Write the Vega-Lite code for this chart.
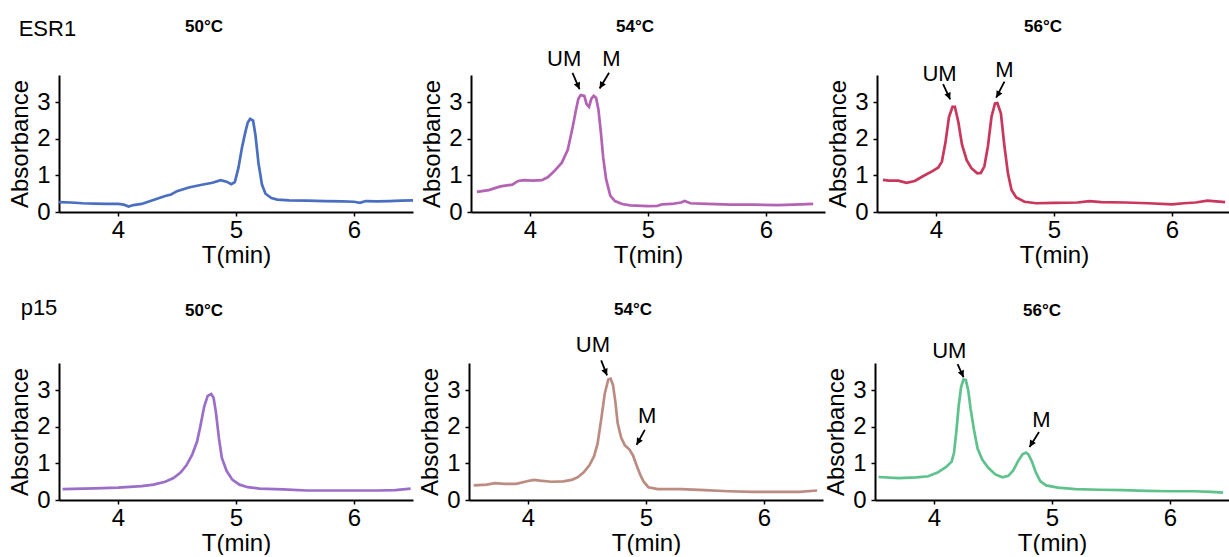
{
  "$schema": "https://vega.github.io/schema/vega-lite/v6.json",
  "background": "white",
  "padding": {"left": 8, "top": 17, "right": 0, "bottom": 0},
  "datasets": {
    "curves": [
      {"panel":"E50","t":3.5,"a":0.27},{"panel":"E50","t":3.6,"a":0.26},{"panel":"E50","t":3.7,"a":0.24},{"panel":"E50","t":3.8,"a":0.23},{"panel":"E50","t":3.9,"a":0.22},{"panel":"E50","t":4.0,"a":0.22},{"panel":"E50","t":4.05,"a":0.2},{"panel":"E50","t":4.09,"a":0.15},{"panel":"E50","t":4.13,"a":0.19},{"panel":"E50","t":4.2,"a":0.22},{"panel":"E50","t":4.3,"a":0.33},{"panel":"E50","t":4.4,"a":0.44},{"panel":"E50","t":4.45,"a":0.48},{"panel":"E50","t":4.5,"a":0.57},{"panel":"E50","t":4.6,"a":0.67},{"panel":"E50","t":4.7,"a":0.74},{"panel":"E50","t":4.8,"a":0.8},{"panel":"E50","t":4.87,"a":0.87},{"panel":"E50","t":4.92,"a":0.83},{"panel":"E50","t":4.96,"a":0.76},{"panel":"E50","t":4.99,"a":0.82},{"panel":"E50","t":5.02,"a":1.2},{"panel":"E50","t":5.05,"a":1.75},{"panel":"E50","t":5.08,"a":2.2},{"panel":"E50","t":5.1,"a":2.45},{"panel":"E50","t":5.12,"a":2.55},{"panel":"E50","t":5.145,"a":2.5},{"panel":"E50","t":5.165,"a":2.1},{"panel":"E50","t":5.19,"a":1.35},{"panel":"E50","t":5.22,"a":0.75},{"panel":"E50","t":5.25,"a":0.5},{"panel":"E50","t":5.3,"a":0.38},{"panel":"E50","t":5.35,"a":0.34},{"panel":"E50","t":5.45,"a":0.32},{"panel":"E50","t":5.6,"a":0.31},{"panel":"E50","t":5.75,"a":0.3},{"panel":"E50","t":5.9,"a":0.29},{"panel":"E50","t":6.0,"a":0.28},{"panel":"E50","t":6.05,"a":0.25},{"panel":"E50","t":6.1,"a":0.3},{"panel":"E50","t":6.2,"a":0.29},{"panel":"E50","t":6.3,"a":0.3},{"panel":"E50","t":6.4,"a":0.31},{"panel":"E50","t":6.5,"a":0.32},
      {"panel":"E54","t":3.55,"a":0.55},{"panel":"E54","t":3.65,"a":0.6},{"panel":"E54","t":3.75,"a":0.7},{"panel":"E54","t":3.85,"a":0.75},{"panel":"E54","t":3.9,"a":0.85},{"panel":"E54","t":3.95,"a":0.87},{"panel":"E54","t":4.02,"a":0.86},{"panel":"E54","t":4.1,"a":0.87},{"panel":"E54","t":4.15,"a":0.95},{"panel":"E54","t":4.2,"a":1.1},{"panel":"E54","t":4.27,"a":1.35},{"panel":"E54","t":4.32,"a":1.7},{"panel":"E54","t":4.36,"a":2.3},{"panel":"E54","t":4.39,"a":2.8},{"panel":"E54","t":4.41,"a":3.1},{"panel":"E54","t":4.43,"a":3.2},{"panel":"E54","t":4.46,"a":3.18},{"panel":"E54","t":4.48,"a":2.95},{"panel":"E54","t":4.5,"a":2.88},{"panel":"E54","t":4.52,"a":3.1},{"panel":"E54","t":4.54,"a":3.18},{"panel":"E54","t":4.56,"a":3.13},{"panel":"E54","t":4.58,"a":2.8},{"panel":"E54","t":4.6,"a":2.2},{"panel":"E54","t":4.62,"a":1.5},{"panel":"E54","t":4.645,"a":0.9},{"panel":"E54","t":4.68,"a":0.45},{"panel":"E54","t":4.72,"a":0.3},{"panel":"E54","t":4.78,"a":0.22},{"panel":"E54","t":4.85,"a":0.18},{"panel":"E54","t":5.0,"a":0.16},{"panel":"E54","t":5.08,"a":0.17},{"panel":"E54","t":5.12,"a":0.21},{"panel":"E54","t":5.2,"a":0.22},{"panel":"E54","t":5.28,"a":0.26},{"panel":"E54","t":5.31,"a":0.3},{"panel":"E54","t":5.36,"a":0.24},{"panel":"E54","t":5.5,"a":0.22},{"panel":"E54","t":5.7,"a":0.2},{"panel":"E54","t":5.9,"a":0.2},{"panel":"E54","t":6.1,"a":0.19},{"panel":"E54","t":6.3,"a":0.21},{"panel":"E54","t":6.4,"a":0.22},
      {"panel":"E56","t":3.55,"a":0.88},{"panel":"E56","t":3.6,"a":0.86},{"panel":"E56","t":3.68,"a":0.86},{"panel":"E56","t":3.75,"a":0.8},{"panel":"E56","t":3.82,"a":0.85},{"panel":"E56","t":3.9,"a":1.0},{"panel":"E56","t":3.97,"a":1.12},{"panel":"E56","t":4.02,"a":1.22},{"panel":"E56","t":4.05,"a":1.38},{"panel":"E56","t":4.08,"a":1.9},{"panel":"E56","t":4.11,"a":2.6},{"panel":"E56","t":4.14,"a":2.88},{"panel":"E56","t":4.16,"a":2.88},{"panel":"E56","t":4.19,"a":2.45},{"panel":"E56","t":4.22,"a":1.85},{"panel":"E56","t":4.26,"a":1.42},{"panel":"E56","t":4.3,"a":1.2},{"panel":"E56","t":4.35,"a":1.06},{"panel":"E56","t":4.38,"a":1.07},{"panel":"E56","t":4.41,"a":1.25},{"panel":"E56","t":4.44,"a":1.8},{"panel":"E56","t":4.47,"a":2.6},{"panel":"E56","t":4.5,"a":2.97},{"panel":"E56","t":4.52,"a":2.98},{"panel":"E56","t":4.55,"a":2.7},{"panel":"E56","t":4.58,"a":1.8},{"panel":"E56","t":4.61,"a":1.05},{"panel":"E56","t":4.64,"a":0.6},{"panel":"E56","t":4.68,"a":0.4},{"panel":"E56","t":4.75,"a":0.28},{"panel":"E56","t":4.85,"a":0.24},{"panel":"E56","t":5.0,"a":0.25},{"panel":"E56","t":5.2,"a":0.26},{"panel":"E56","t":5.3,"a":0.3},{"panel":"E56","t":5.4,"a":0.27},{"panel":"E56","t":5.6,"a":0.26},{"panel":"E56","t":5.8,"a":0.24},{"panel":"E56","t":6.0,"a":0.21},{"panel":"E56","t":6.1,"a":0.24},{"panel":"E56","t":6.2,"a":0.26},{"panel":"E56","t":6.3,"a":0.31},{"panel":"E56","t":6.45,"a":0.27},
      {"panel":"P50","t":3.53,"a":0.3},{"panel":"P50","t":3.8,"a":0.32},{"panel":"P50","t":4.0,"a":0.34},{"panel":"P50","t":4.2,"a":0.38},{"panel":"P50","t":4.3,"a":0.42},{"panel":"P50","t":4.4,"a":0.5},{"panel":"P50","t":4.47,"a":0.6},{"panel":"P50","t":4.53,"a":0.75},{"panel":"P50","t":4.58,"a":0.95},{"panel":"P50","t":4.63,"a":1.25},{"panel":"P50","t":4.67,"a":1.6},{"panel":"P50","t":4.7,"a":2.05},{"panel":"P50","t":4.73,"a":2.55},{"panel":"P50","t":4.76,"a":2.85},{"panel":"P50","t":4.79,"a":2.9},{"panel":"P50","t":4.81,"a":2.8},{"panel":"P50","t":4.83,"a":2.4},{"panel":"P50","t":4.855,"a":1.7},{"panel":"P50","t":4.88,"a":1.15},{"panel":"P50","t":4.92,"a":0.8},{"panel":"P50","t":4.97,"a":0.55},{"panel":"P50","t":5.03,"a":0.42},{"panel":"P50","t":5.1,"a":0.35},{"panel":"P50","t":5.2,"a":0.31},{"panel":"P50","t":5.4,"a":0.29},{"panel":"P50","t":5.6,"a":0.26},{"panel":"P50","t":5.8,"a":0.26},{"panel":"P50","t":6.0,"a":0.26},{"panel":"P50","t":6.2,"a":0.26},{"panel":"P50","t":6.35,"a":0.27},{"panel":"P50","t":6.48,"a":0.31},
      {"panel":"P54","t":3.54,"a":0.4},{"panel":"P54","t":3.65,"a":0.42},{"panel":"P54","t":3.72,"a":0.46},{"panel":"P54","t":3.8,"a":0.44},{"panel":"P54","t":3.9,"a":0.44},{"panel":"P54","t":4.0,"a":0.52},{"panel":"P54","t":4.05,"a":0.55},{"panel":"P54","t":4.1,"a":0.53},{"panel":"P54","t":4.2,"a":0.5},{"panel":"P54","t":4.3,"a":0.51},{"panel":"P54","t":4.37,"a":0.55},{"panel":"P54","t":4.42,"a":0.62},{"panel":"P54","t":4.47,"a":0.75},{"panel":"P54","t":4.52,"a":0.95},{"panel":"P54","t":4.56,"a":1.2},{"panel":"P54","t":4.59,"a":1.55},{"panel":"P54","t":4.62,"a":2.2},{"panel":"P54","t":4.65,"a":2.9},{"panel":"P54","t":4.68,"a":3.3},{"panel":"P54","t":4.7,"a":3.32},{"panel":"P54","t":4.72,"a":3.15},{"panel":"P54","t":4.74,"a":2.7},{"panel":"P54","t":4.76,"a":2.1},{"panel":"P54","t":4.79,"a":1.7},{"panel":"P54","t":4.82,"a":1.5},{"panel":"P54","t":4.86,"a":1.38},{"panel":"P54","t":4.89,"a":1.22},{"panel":"P54","t":4.92,"a":0.95},{"panel":"P54","t":4.95,"a":0.7},{"panel":"P54","t":4.98,"a":0.5},{"panel":"P54","t":5.02,"a":0.35},{"panel":"P54","t":5.1,"a":0.3},{"panel":"P54","t":5.3,"a":0.3},{"panel":"P54","t":5.5,"a":0.27},{"panel":"P54","t":5.7,"a":0.24},{"panel":"P54","t":5.9,"a":0.22},{"panel":"P54","t":6.1,"a":0.22},{"panel":"P54","t":6.3,"a":0.22},{"panel":"P54","t":6.45,"a":0.26},
      {"panel":"P56","t":3.53,"a":0.63},{"panel":"P56","t":3.7,"a":0.6},{"panel":"P56","t":3.85,"a":0.62},{"panel":"P56","t":3.95,"a":0.65},{"panel":"P56","t":4.03,"a":0.75},{"panel":"P56","t":4.1,"a":0.9},{"panel":"P56","t":4.15,"a":1.05},{"panel":"P56","t":4.17,"a":1.3},{"panel":"P56","t":4.19,"a":1.9},{"panel":"P56","t":4.21,"a":2.6},{"panel":"P56","t":4.23,"a":3.1},{"panel":"P56","t":4.25,"a":3.3},{"panel":"P56","t":4.27,"a":3.28},{"panel":"P56","t":4.29,"a":3.0},{"panel":"P56","t":4.31,"a":2.5},{"panel":"P56","t":4.34,"a":1.9},{"panel":"P56","t":4.37,"a":1.4},{"panel":"P56","t":4.41,"a":1.1},{"panel":"P56","t":4.46,"a":0.88},{"panel":"P56","t":4.52,"a":0.7},{"panel":"P56","t":4.58,"a":0.62},{"panel":"P56","t":4.63,"a":0.66},{"panel":"P56","t":4.67,"a":0.8},{"panel":"P56","t":4.71,"a":1.05},{"panel":"P56","t":4.75,"a":1.25},{"panel":"P56","t":4.78,"a":1.3},{"panel":"P56","t":4.8,"a":1.25},{"panel":"P56","t":4.83,"a":1.05},{"panel":"P56","t":4.86,"a":0.78},{"panel":"P56","t":4.9,"a":0.52},{"panel":"P56","t":4.95,"a":0.4},{"panel":"P56","t":5.05,"a":0.34},{"panel":"P56","t":5.2,"a":0.3},{"panel":"P56","t":5.4,"a":0.28},{"panel":"P56","t":5.6,"a":0.27},{"panel":"P56","t":5.8,"a":0.25},{"panel":"P56","t":6.0,"a":0.24},{"panel":"P56","t":6.2,"a":0.24},{"panel":"P56","t":6.35,"a":0.22},{"panel":"P56","t":6.45,"a":0.2}
    ],
    "notes": [
      {"panel":"E54","label":"UM","t":4.29,"a":4.0,"t1":4.36,"a1":3.81,"t2":4.42,"a2":3.36},
      {"panel":"E54","label":"M","t":4.69,"a":4.0,"t1":4.67,"a1":3.81,"t2":4.59,"a2":3.38},
      {"panel":"E56","label":"UM","t":4.03,"a":3.59,"t1":4.06,"a1":3.5,"t2":4.12,"a2":3.08},
      {"panel":"E56","label":"M","t":4.58,"a":3.69,"t1":4.58,"a1":3.57,"t2":4.51,"a2":3.13},
      {"panel":"P54","label":"UM","t":4.55,"a":4.06,"t1":4.62,"a1":3.82,"t2":4.67,"a2":3.41},
      {"panel":"P54","label":"M","t":5.01,"a":2.1,"t1":4.99,"a1":1.92,"t2":4.92,"a2":1.51},
      {"panel":"P56","label":"UM","t":4.13,"a":3.9,"t1":4.2,"a1":3.72,"t2":4.25,"a2":3.36},
      {"panel":"P56","label":"M","t":4.91,"a":2.0,"t1":4.89,"a1":1.86,"t2":4.81,"a2":1.45}
    ]
  },
  "vconcat": [
    {
      "title": {"text": "ESR1", "anchor": "start", "fontSize": 22, "fontWeight": "normal", "offset": -23, "dx": 10},
      "spacing": 1,
      "hconcat": [
        {
          "width": 354, "height": 137,
          "title": {"text": "50°C", "offset": 39, "dx": -32},
          "layer": [
            {"data": {"name": "curves"}, "transform": [{"filter": "datum.panel === 'E50'"}],
             "mark": {"type": "line", "color": "#4a6fc1", "strokeWidth": 2.7},
             "encoding": {
               "x": {"field": "t", "type": "quantitative", "scale": {"domain": [3.5, 6.5], "nice": false, "zero": false}, "axis": {"values": [4, 5, 6], "title": "T(min)"}},
               "y": {"field": "a", "type": "quantitative", "scale": {"domain": [0, 3.75], "nice": false}, "axis": {"values": [0, 1, 2, 3], "title": "Absorbance"}}
             }}
          ]
        },
        {
          "width": 354, "height": 137,
          "title": {"text": "54°C", "offset": 12, "frame": "group", "dx": -13},
          "layer": [
            {"data": {"name": "curves"}, "transform": [{"filter": "datum.panel === 'E54'"}],
             "mark": {"type": "line", "color": "#b462b4", "strokeWidth": 2.7},
             "encoding": {
               "x": {"field": "t", "type": "quantitative", "scale": {"domain": [3.5, 6.5], "nice": false, "zero": false}, "axis": {"values": [4, 5, 6], "title": "T(min)"}},
               "y": {"field": "a", "type": "quantitative", "scale": {"domain": [0, 3.75], "nice": false}, "axis": {"values": [0, 1, 2, 3], "title": "Absorbance"}}
             }},
            {"data": {"name": "notes"}, "transform": [{"filter": "datum.panel === 'E54'"}],
             "mark": {"type": "text", "font": "Liberation Sans", "fontSize": 22, "align": "center", "baseline": "alphabetic", "color": "black"},
             "encoding": {
               "x": {"field": "t", "type": "quantitative", "scale": {"domain": [3.5, 6.5], "nice": false, "zero": false}, "axis": {"values": [4, 5, 6], "title": "T(min)"}},
               "y": {"field": "a", "type": "quantitative", "scale": {"domain": [0, 3.75], "nice": false}, "axis": {"values": [0, 1, 2, 3], "title": "Absorbance"}},
               "text": {"field": "label"}
             }},
            {"data": {"name": "notes"}, "transform": [{"filter": "datum.panel === 'E54'"}],
             "mark": {"type": "rule", "color": "black", "strokeWidth": 1.8},
             "encoding": {
               "x": {"field": "t1", "type": "quantitative", "scale": {"domain": [3.5, 6.5], "nice": false, "zero": false}, "axis": {"values": [4, 5, 6], "title": "T(min)"}},
               "y": {"field": "a1", "type": "quantitative", "scale": {"domain": [0, 3.75], "nice": false}, "axis": {"values": [0, 1, 2, 3], "title": "Absorbance"}},
               "x2": {"field": "t2"}, "y2": {"field": "a2"}
             }},
            {"data": {"name": "notes"}, "transform": [{"filter": "datum.panel === 'E54'"}],
             "mark": {"type": "point", "filled": true, "color": "black", "opacity": 1, "size": 180},
             "encoding": {
               "x": {"field": "t2", "type": "quantitative", "scale": {"domain": [3.5, 6.5], "nice": false, "zero": false}, "axis": {"values": [4, 5, 6], "title": "T(min)"}},
               "y": {"field": "a2", "type": "quantitative", "scale": {"domain": [0, 3.75], "nice": false}, "axis": {"values": [0, 1, 2, 3], "title": "Absorbance"}},
               "shape": {"field": "label", "type": "nominal", "scale": {"domain": ["UM", "M"], "range": ["M0,0L-0.851,-0.725L0.07,-1.116Z", "M0,0L0.067,-1.116L0.933,-0.616Z"]}, "legend": null}
             }}
          ]
        },
        {
          "width": 354, "height": 137,
          "title": {"text": "56°C", "offset": 23, "frame": "group", "dx": -11},
          "layer": [
            {"data": {"name": "curves"}, "transform": [{"filter": "datum.panel === 'E56'"}],
             "mark": {"type": "line", "color": "#c9385c", "strokeWidth": 2.7},
             "encoding": {
               "x": {"field": "t", "type": "quantitative", "scale": {"domain": [3.5, 6.5], "nice": false, "zero": false}, "axis": {"values": [4, 5, 6], "title": "T(min)"}},
               "y": {"field": "a", "type": "quantitative", "scale": {"domain": [0, 3.75], "nice": false}, "axis": {"values": [0, 1, 2, 3], "title": "Absorbance"}}
             }},
            {"data": {"name": "notes"}, "transform": [{"filter": "datum.panel === 'E56'"}],
             "mark": {"type": "text", "font": "Liberation Sans", "fontSize": 22, "align": "center", "baseline": "alphabetic", "color": "black"},
             "encoding": {
               "x": {"field": "t", "type": "quantitative", "scale": {"domain": [3.5, 6.5], "nice": false, "zero": false}, "axis": {"values": [4, 5, 6], "title": "T(min)"}},
               "y": {"field": "a", "type": "quantitative", "scale": {"domain": [0, 3.75], "nice": false}, "axis": {"values": [0, 1, 2, 3], "title": "Absorbance"}},
               "text": {"field": "label"}
             }},
            {"data": {"name": "notes"}, "transform": [{"filter": "datum.panel === 'E56'"}],
             "mark": {"type": "rule", "color": "black", "strokeWidth": 1.8},
             "encoding": {
               "x": {"field": "t1", "type": "quantitative", "scale": {"domain": [3.5, 6.5], "nice": false, "zero": false}, "axis": {"values": [4, 5, 6], "title": "T(min)"}},
               "y": {"field": "a1", "type": "quantitative", "scale": {"domain": [0, 3.75], "nice": false}, "axis": {"values": [0, 1, 2, 3], "title": "Absorbance"}},
               "x2": {"field": "t2"}, "y2": {"field": "a2"}
             }},
            {"data": {"name": "notes"}, "transform": [{"filter": "datum.panel === 'E56'"}],
             "mark": {"type": "point", "filled": true, "color": "black", "opacity": 1, "size": 180},
             "encoding": {
               "x": {"field": "t2", "type": "quantitative", "scale": {"domain": [3.5, 6.5], "nice": false, "zero": false}, "axis": {"values": [4, 5, 6], "title": "T(min)"}},
               "y": {"field": "a2", "type": "quantitative", "scale": {"domain": [0, 3.75], "nice": false}, "axis": {"values": [0, 1, 2, 3], "title": "Absorbance"}},
               "shape": {"field": "label", "type": "nominal", "scale": {"domain": ["UM", "M"], "range": ["M0,0L-0.851,-0.725L0.07,-1.116Z", "M0,0L0.067,-1.116L0.933,-0.616Z"]}, "legend": null}
             }}
          ]
        }
      ]
    },
    {
      "title": {"text": "p15", "anchor": "start", "fontSize": 22, "fontWeight": "normal", "offset": -19, "dx": 12},
      "spacing": 1,
      "hconcat": [
        {
          "width": 354, "height": 137,
          "title": {"text": "50°C", "offset": 43, "dx": -32},
          "layer": [
            {"data": {"name": "curves"}, "transform": [{"filter": "datum.panel === 'P50'"}],
             "mark": {"type": "line", "color": "#9b6fc9", "strokeWidth": 2.7},
             "encoding": {
               "x": {"field": "t", "type": "quantitative", "scale": {"domain": [3.5, 6.5], "nice": false, "zero": false}, "axis": {"values": [4, 5, 6], "title": "T(min)"}},
               "y": {"field": "a", "type": "quantitative", "scale": {"domain": [0, 3.75], "nice": false}, "axis": {"values": [0, 1, 2, 3], "title": "Absorbance"}}
             }}
          ]
        },
        {
          "width": 354, "height": 137,
          "title": {"text": "54°C", "offset": 15, "frame": "group", "dx": -13},
          "layer": [
            {"data": {"name": "curves"}, "transform": [{"filter": "datum.panel === 'P54'"}],
             "mark": {"type": "line", "color": "#bc8c82", "strokeWidth": 2.7},
             "encoding": {
               "x": {"field": "t", "type": "quantitative", "scale": {"domain": [3.5, 6.5], "nice": false, "zero": false}, "axis": {"values": [4, 5, 6], "title": "T(min)"}},
               "y": {"field": "a", "type": "quantitative", "scale": {"domain": [0, 3.75], "nice": false}, "axis": {"values": [0, 1, 2, 3], "title": "Absorbance"}}
             }},
            {"data": {"name": "notes"}, "transform": [{"filter": "datum.panel === 'P54'"}],
             "mark": {"type": "text", "font": "Liberation Sans", "fontSize": 22, "align": "center", "baseline": "alphabetic", "color": "black"},
             "encoding": {
               "x": {"field": "t", "type": "quantitative", "scale": {"domain": [3.5, 6.5], "nice": false, "zero": false}, "axis": {"values": [4, 5, 6], "title": "T(min)"}},
               "y": {"field": "a", "type": "quantitative", "scale": {"domain": [0, 3.75], "nice": false}, "axis": {"values": [0, 1, 2, 3], "title": "Absorbance"}},
               "text": {"field": "label"}
             }},
            {"data": {"name": "notes"}, "transform": [{"filter": "datum.panel === 'P54'"}],
             "mark": {"type": "rule", "color": "black", "strokeWidth": 1.8},
             "encoding": {
               "x": {"field": "t1", "type": "quantitative", "scale": {"domain": [3.5, 6.5], "nice": false, "zero": false}, "axis": {"values": [4, 5, 6], "title": "T(min)"}},
               "y": {"field": "a1", "type": "quantitative", "scale": {"domain": [0, 3.75], "nice": false}, "axis": {"values": [0, 1, 2, 3], "title": "Absorbance"}},
               "x2": {"field": "t2"}, "y2": {"field": "a2"}
             }},
            {"data": {"name": "notes"}, "transform": [{"filter": "datum.panel === 'P54'"}],
             "mark": {"type": "point", "filled": true, "color": "black", "opacity": 1, "size": 180},
             "encoding": {
               "x": {"field": "t2", "type": "quantitative", "scale": {"domain": [3.5, 6.5], "nice": false, "zero": false}, "axis": {"values": [4, 5, 6], "title": "T(min)"}},
               "y": {"field": "a2", "type": "quantitative", "scale": {"domain": [0, 3.75], "nice": false}, "axis": {"values": [0, 1, 2, 3], "title": "Absorbance"}},
               "shape": {"field": "label", "type": "nominal", "scale": {"domain": ["UM", "M"], "range": ["M0,0L-0.851,-0.725L0.07,-1.116Z", "M0,0L0.067,-1.116L0.933,-0.616Z"]}, "legend": null}
             }}
          ]
        },
        {
          "width": 354, "height": 137,
          "title": {"text": "56°C", "offset": 20, "frame": "group", "dx": -10},
          "layer": [
            {"data": {"name": "curves"}, "transform": [{"filter": "datum.panel === 'P56'"}],
             "mark": {"type": "line", "color": "#5fc28d", "strokeWidth": 2.7},
             "encoding": {
               "x": {"field": "t", "type": "quantitative", "scale": {"domain": [3.5, 6.5], "nice": false, "zero": false}, "axis": {"values": [4, 5, 6], "title": "T(min)"}},
               "y": {"field": "a", "type": "quantitative", "scale": {"domain": [0, 3.75], "nice": false}, "axis": {"values": [0, 1, 2, 3], "title": "Absorbance"}}
             }},
            {"data": {"name": "notes"}, "transform": [{"filter": "datum.panel === 'P56'"}],
             "mark": {"type": "text", "font": "Liberation Sans", "fontSize": 22, "align": "center", "baseline": "alphabetic", "color": "black"},
             "encoding": {
               "x": {"field": "t", "type": "quantitative", "scale": {"domain": [3.5, 6.5], "nice": false, "zero": false}, "axis": {"values": [4, 5, 6], "title": "T(min)"}},
               "y": {"field": "a", "type": "quantitative", "scale": {"domain": [0, 3.75], "nice": false}, "axis": {"values": [0, 1, 2, 3], "title": "Absorbance"}},
               "text": {"field": "label"}
             }},
            {"data": {"name": "notes"}, "transform": [{"filter": "datum.panel === 'P56'"}],
             "mark": {"type": "rule", "color": "black", "strokeWidth": 1.8},
             "encoding": {
               "x": {"field": "t1", "type": "quantitative", "scale": {"domain": [3.5, 6.5], "nice": false, "zero": false}, "axis": {"values": [4, 5, 6], "title": "T(min)"}},
               "y": {"field": "a1", "type": "quantitative", "scale": {"domain": [0, 3.75], "nice": false}, "axis": {"values": [0, 1, 2, 3], "title": "Absorbance"}},
               "x2": {"field": "t2"}, "y2": {"field": "a2"}
             }},
            {"data": {"name": "notes"}, "transform": [{"filter": "datum.panel === 'P56'"}],
             "mark": {"type": "point", "filled": true, "color": "black", "opacity": 1, "size": 180},
             "encoding": {
               "x": {"field": "t2", "type": "quantitative", "scale": {"domain": [3.5, 6.5], "nice": false, "zero": false}, "axis": {"values": [4, 5, 6], "title": "T(min)"}},
               "y": {"field": "a2", "type": "quantitative", "scale": {"domain": [0, 3.75], "nice": false}, "axis": {"values": [0, 1, 2, 3], "title": "Absorbance"}},
               "shape": {"field": "label", "type": "nominal", "scale": {"domain": ["UM", "M"], "range": ["M0,0L-0.851,-0.725L0.07,-1.116Z", "M0,0L0.067,-1.116L0.933,-0.616Z"]}, "legend": null}
             }}
          ]
        }
      ]
    }
  ],
  "spacing": 29,
  "config": {
    "view": {"stroke": null},
    "font": "Liberation Sans",
    "title": {"font": "Liberation Sans", "fontSize": 17, "fontWeight": "bold", "color": "black"},
    "axis": {"grid": false, "domainColor": "black", "domainWidth": 2, "tickColor": "black", "tickWidth": 1.5, "tickSize": 4, "labelFont": "Liberation Sans", "labelFontSize": 24, "labelColor": "black", "labelFlush": false, "titleFont": "Liberation Sans", "titleFontSize": 24, "titleFontWeight": "normal", "titleColor": "black"},
    "axisX": {"labelPadding": 2, "titlePadding": 1},
    "axisY": {"labelPadding": 5, "titlePadding": 4}
  }
}
